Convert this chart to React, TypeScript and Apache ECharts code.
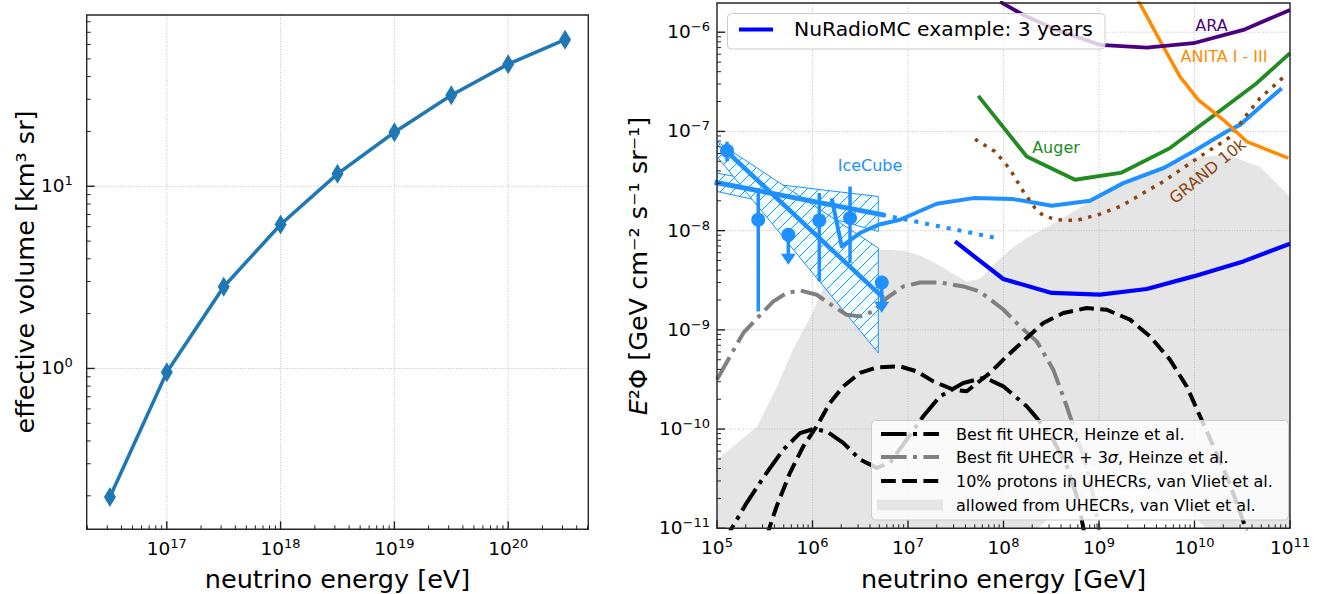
import { useEffect, useRef } from 'react';
import * as echarts from 'echarts';

const FONT = "'DejaVu Sans', sans-serif";

// ---------------- Left panel: effective volume ----------------
const veffEnergyEV = [3.162e16, 1e17, 3.162e17, 1e18, 3.162e18, 1e19, 3.162e19, 1e20, 3.162e20];
const veffKm3Sr = [0.197, 0.953, 2.81, 6.17, 11.7, 19.8, 31.6, 46.8, 63.8];
const leftXTicks = [1e17, 1e18, 1e19, 1e20];
const leftYTicks = [1, 10];

// ---------------- Right panel (values as log10) ----------------
const rightXTicks = [1e5, 1e6, 1e7, 1e8, 1e9, 1e10, 1e11];
const rightYTicks = [1e-11, 1e-10, 1e-9, 1e-8, 1e-7, 1e-6];

// allowed region from UHECRs (van Vliet et al.)
const allowedUpLogE = [5.0, 5.168, 5.419, 5.628, 5.796, 5.974, 6.152, 6.288, 6.497, 6.759, 6.969, 7.126, 7.283, 7.471, 7.618, 7.754, 7.89, 8.068, 8.246, 8.592, 8.937, 9.293, 9.639, 9.984, 10.34, 10.686, 11.0];
const allowedUpLogF = [-10.307, -10.176, -9.975, -9.572, -9.199, -8.877, -8.494, -8.292, -8.212, -8.192, -8.202, -8.253, -8.323, -8.434, -8.515, -8.485, -8.354, -8.193, -8.072, -7.89, -7.689, -7.487, -7.357, -7.266, -7.236, -7.357, -7.659];
const allowedLowLogE = [11.0, 10.215, 10.11, 9.848, 9.534, 9.22, 8.906, 8.592, 8.382, 8.277, 5.0];
const allowedLowLogF = [-11.16, -11.16, -10.988, -10.756, -10.635, -10.605, -10.645, -10.786, -10.988, -11.16, -11.16];

// Heinze best fit
const heinzeLogE = [5.06, 5.118, 5.311, 5.52, 5.694, 5.869, 6.008, 6.149, 6.322, 6.497, 6.672, 6.812, 6.986, 7.16, 7.335, 7.579, 7.806, 7.998, 8.243, 8.348, 8.518, 8.665, 8.77, 8.833, 8.87];
const heinzeLogF = [-11.2, -11.06, -10.743, -10.44, -10.207, -10.04, -10.0, -10.022, -10.139, -10.306, -10.391, -10.34, -10.106, -9.871, -9.67, -9.535, -9.481, -9.569, -9.77, -9.887, -10.105, -10.377, -10.68, -10.98, -11.2];
// Heinze + 3 sigma
const heinze3sLogE = [5.0, 5.136, 5.276, 5.433, 5.59, 5.73, 5.869, 6.044, 6.218, 6.358, 6.497, 6.637, 6.777, 6.951, 7.126, 7.335, 7.579, 7.754, 7.998, 8.173, 8.348, 8.521, 8.662, 8.767, 8.871, 8.94, 8.993, 9.02];
const heinze3sLogF = [-9.5, -9.267, -9.031, -8.87, -8.713, -8.628, -8.602, -8.646, -8.763, -8.847, -8.864, -8.814, -8.679, -8.562, -8.522, -8.522, -8.562, -8.615, -8.795, -8.965, -9.116, -9.401, -9.77, -10.073, -10.375, -10.677, -10.98, -11.16];
// van Vliet 10% protons
const vliet10LogE = [5.52, 5.625, 5.764, 5.904, 6.044, 6.183, 6.323, 6.497, 6.672, 6.916, 7.091, 7.265, 7.474, 7.615, 7.859, 8.033, 8.243, 8.417, 8.626, 8.871, 9.081, 9.325, 9.534, 9.743, 9.918, 10.058, 10.197, 10.337, 10.442, 10.529, 10.58];
const vliet10LogF = [-11.08, -10.777, -10.441, -10.173, -9.972, -9.736, -9.569, -9.434, -9.378, -9.368, -9.418, -9.519, -9.602, -9.619, -9.434, -9.267, -9.082, -8.931, -8.83, -8.78, -8.797, -8.897, -9.065, -9.3, -9.569, -9.871, -10.173, -10.475, -10.743, -10.979, -11.16];

// IceCube EHE limit
const icLimitLogE = [6.201, 6.306, 6.497, 6.689, 6.916, 7.301, 7.684, 8.103, 8.505, 8.906, 9.254, 9.673, 9.988, 10.337, 10.476, 10.913];
const icLimitLogF = [-7.675, -8.159, -8.024, -7.941, -7.89, -7.729, -7.672, -7.682, -7.749, -7.699, -7.521, -7.37, -7.202, -7.001, -6.934, -6.564];
// IceCube power-law fits
const icShallowFitLogE = [5.0, 6.728];
const icShallowFitLogF = [-7.517, -7.839];
const icShallowExtrapLogE = [6.728, 7.929];
const icShallowExtrapLogF = [-7.839, -8.075];
const icSteepFitLogE = [5.102, 6.725];
const icSteepFitLogF = [-7.202, -8.663];
// IceCube bands
const icShallowBandUpLogE = [5.0, 5.66, 6.689];
const icShallowBandUpLogF = [-7.42, -7.538, -7.656];
const icShallowBandLowLogE = [5.0, 5.869, 6.689];
const icShallowBandLowLogF = [-7.605, -7.788, -8.008];
const icSteepBandUpLogE = [5.0, 6.689];
const icSteepBandUpLogF = [-7.102, -8.175];
const icSteepBandLowLogE = [5.0, 6.689];
const icSteepBandLowLogF = [-7.253, -9.233];
// IceCube differential points
const icPtLogE = [5.105, 5.432, 5.747, 6.071, 6.393, 6.725];
const icPtLogF = [-7.195, -7.89, -8.041, -7.897, -7.873, -8.522];
const icPtHiLogF = [-7.104, -7.59, -8.041, -7.621, -7.555, -8.522];
const icPtLoLogF = [-7.303, -8.814, -8.343, -8.512, -8.326, -8.827];
const icPtUpperLimit = [false, false, true, false, false, true];

// NuRadioMC example
const nuradioLogE = [7.492, 7.998, 8.505, 9.01, 9.5, 9.988, 10.511, 11.0];
const nuradioLogF = [-8.109, -8.487, -8.628, -8.645, -8.588, -8.461, -8.31, -8.132];
// Auger
const augerLogE = [7.736, 8.243, 8.749, 9.238, 9.743, 10.233, 10.651, 11.0];
const augerLogF = [-6.641, -7.253, -7.487, -7.414, -7.168, -6.816, -6.514, -6.211];
// ANITA I-III
const anitaLogE = [9.408, 9.673, 9.848, 10.04, 10.302, 10.547, 10.982];
const anitaLogF = [-5.675, -6.145, -6.447, -6.682, -6.883, -7.102, -7.269];
// ARA
const araLogE = [7.963, 8.207, 8.557, 9.01, 9.5, 9.988, 10.511, 11.0];
const araLogF = [-5.692, -5.826, -5.977, -6.128, -6.155, -6.111, -5.977, -5.775];
// GRAND 10k
const grandLogE = [7.702, 7.911, 8.068, 8.191, 8.33, 8.417, 8.557, 8.766, 9.01, 9.238, 9.464, 9.673, 10.058, 10.372, 10.545, 10.686, 10.958];
const grandLogF = [-7.078, -7.202, -7.38, -7.581, -7.772, -7.85, -7.89, -7.897, -7.833, -7.749, -7.621, -7.505, -7.253, -7.057, -6.833, -6.665, -6.43];

const IC = '#1e90ff';

const L = (e: number[], f: number[]) => e.map((x, i) => [Math.pow(10, x), Math.pow(10, f[i])]);

function minorTicks(min: number, max: number) {
  const out: number[] = [];
  for (let d = Math.floor(Math.log10(min)); d <= Math.ceil(Math.log10(max)); d++) {
    for (let k = 2; k <= 9; k++) {
      const v = k * Math.pow(10, d);
      if (v > min && v < max) out.push(v);
    }
  }
  return out;
}

const supLabel = (v: number) => {
  const e = Math.round(Math.log10(v));
  return `{b|10}{s|${e < 0 ? '\u2212' + -e : e}}`;
};

const RICH = {
  b: { fontSize: 18.5, fontFamily: FONT, fill: '#000', lineHeight: 21, verticalAlign: 'bottom' },
  s: { fontSize: 13, fontFamily: FONT, fill: '#000', lineHeight: 13, verticalAlign: 'top' },
};

const LEFT = { xMin: 1.977e16, xMax: 5.06e20, yMin: 0.131, yMax: 87.1 };
const RIGHT = { xMin: 1e5, xMax: 1e11, yMin: 1e-11, yMax: 1.97e-6 };

function tickSeries(gi: number, dim: 'x' | 'y', vals: number[], major: boolean, other: number, label: boolean, gap: number) {
  return {
    type: 'custom',
    xAxisIndex: gi,
    yAxisIndex: gi,
    z: 6,
    silent: true,
    clip: false,
    data: vals.map((v) => (dim === 'x' ? [v, other] : [other, v])),
    renderItem: (params: any, api: any) => {
      const cs = params.coordSys;
      const v = api.value(dim === 'x' ? 0 : 1);
      const pt = api.coord(dim === 'x' ? [v, other] : [other, v]);
      const len = major ? 8 : 4;
      const lw = major ? 1.4 : 1;
      const children: any[] = [];
      if (dim === 'x') {
        const x = pt[0];
        const yb = cs.y + cs.height;
        children.push({ type: 'line', shape: { x1: x, y1: yb, x2: x, y2: yb - len }, style: { stroke: '#222', lineWidth: lw } });
        if (label)
          children.push({
            type: 'text',
            style: { text: supLabel(v), x, y: yb + gap, align: 'center', verticalAlign: 'top', rich: RICH, fontFamily: FONT, fontSize: 18.5, fill: '#000' },
          });
      } else {
        const y = pt[1];
        const xl = cs.x;
        children.push({ type: 'line', shape: { x1: xl, y1: y, x2: xl + len, y2: y }, style: { stroke: '#222', lineWidth: lw } });
        if (label)
          children.push({
            type: 'text',
            style: { text: supLabel(v), x: xl - gap, y: y - 1.5, align: 'right', verticalAlign: 'middle', rich: RICH, fontFamily: FONT, fontSize: 18.5, fill: '#000' },
          });
      }
      return { type: 'group', children };
    },
  };
}

function gridSeries(gi: number, dim: 'x' | 'y', vals: number[], other: number) {
  return {
    type: 'custom',
    xAxisIndex: gi,
    yAxisIndex: gi,
    z: 2,
    silent: true,
    clip: false,
    data: vals.map((v) => (dim === 'x' ? [v, other] : [other, v])),
    renderItem: (params: any, api: any) => {
      const cs = params.coordSys;
      const v = api.value(dim === 'x' ? 0 : 1);
      const pt = api.coord(dim === 'x' ? [v, other] : [other, v]);
      const shape =
        dim === 'x'
          ? { x1: pt[0], y1: cs.y, x2: pt[0], y2: cs.y + cs.height }
          : { x1: cs.x, y1: pt[1], x2: cs.x + cs.width, y2: pt[1] };
      return { type: 'line', shape, style: { stroke: '#b8b8b8', lineWidth: 0.9, lineDash: [1, 1.6] } };
    },
  };
}

function polySeries(pts: number[][], style: any, z: number) {
  return {
    type: 'custom',
    xAxisIndex: 1,
    yAxisIndex: 1,
    z,
    silent: true,
    clip: true,
    data: [pts[0]],
    renderItem: (_p: any, api: any) => ({
      type: 'polygon',
      shape: { points: pts.map((p) => api.coord(p)) },
      style,
    }),
  };
}

function lineSeries(pts: number[][], color: string, width: number, type: any, z = 4, cap = 'butt') {
  return {
    type: 'line',
    xAxisIndex: 1,
    yAxisIndex: 1,
    data: pts,
    symbol: 'none',
    showSymbol: false,
    silent: true,
    z,
    lineStyle: { color, width, type, cap, join: 'round' },
  };
}

const hatchSvg =
  "<svg xmlns='http://www.w3.org/2000/svg' width='12' height='12'><rect width='12' height='12' fill='#f0ffff'/><path d='M-3,3 L3,-3 M0,12 L12,0 M9,15 L15,9' stroke='#1e90ff' stroke-width='1'/></svg>";
const hatchUrl = 'data:image/svg+xml;charset=utf-8,' + encodeURIComponent(hatchSvg);
const hatchFill = { image: hatchUrl, repeat: 'repeat', imageWidth: 12, imageHeight: 12 };

const DASHDOT = [25.6, 6.4, 4, 6.4];
const DASHED = [14.8, 6.4];

function buildOption() {
  const allowedPoly = [...L(allowedUpLogE, allowedUpLogF), ...L(allowedLowLogE, allowedLowLogF)];
  const shallowBand = [...L(icShallowBandUpLogE, icShallowBandUpLogF), ...L(icShallowBandLowLogE, icShallowBandLowLogF).reverse()];
  const steepBand = [...L(icSteepBandUpLogE, icSteepBandUpLogF), ...L(icSteepBandLowLogE, icSteepBandLowLogF).reverse()];

  const series: any[] = [
    // ---- left panel ----
    gridSeries(0, 'x', leftXTicks, LEFT.yMin),
    gridSeries(0, 'y', leftYTicks, LEFT.xMin),
    {
      type: 'line',
      xAxisIndex: 0,
      yAxisIndex: 0,
      data: veffEnergyEV.map((e, i) => [e, veffKm3Sr[i]]),
      symbol: 'diamond',
      symbolSize: [12, 20],
      showSymbol: true,
      silent: true,
      z: 4,
      lineStyle: { color: '#1f77b4', width: 3.5 },
      itemStyle: { color: '#1f77b4' },
    },
    tickSeries(0, 'x', leftXTicks, true, LEFT.yMin, true, 8),
    tickSeries(0, 'x', minorTicks(LEFT.xMin, LEFT.xMax), false, LEFT.yMin, false, 0),
    tickSeries(0, 'y', leftYTicks, true, LEFT.xMin, true, 14),
    tickSeries(0, 'y', minorTicks(LEFT.yMin, LEFT.yMax), false, LEFT.xMin, false, 0),

    // ---- right panel ----
    polySeries(allowedPoly, { fill: '#e5e5e5' }, 1),
    gridSeries(1, 'x', rightXTicks, RIGHT.yMin),
    gridSeries(1, 'y', rightYTicks, RIGHT.xMin),
    polySeries(shallowBand, { fill: hatchFill, stroke: IC, lineWidth: 1 }, 3),
    polySeries(steepBand, { fill: hatchFill, stroke: IC, lineWidth: 1 }, 3),
    lineSeries(L(heinzeLogE, heinzeLogF), '#000000', 4, DASHDOT),
    lineSeries(L(heinze3sLogE, heinze3sLogF), '#808080', 4, DASHDOT),
    lineSeries(L(vliet10LogE, vliet10LogF), '#000000', 4, DASHED),
    lineSeries(L(icShallowFitLogE, icShallowFitLogF), IC, 5, 'solid', 4, 'square'),
    lineSeries(L(icSteepFitLogE, icSteepFitLogF), IC, 4.5, 'solid', 4, 'square'),
    lineSeries(L(icShallowExtrapLogE, icShallowExtrapLogF), IC, 4, [4, 7]),
    lineSeries(L(icLimitLogE, icLimitLogF), IC, 4, 'solid'),
    lineSeries(L(grandLogE, grandLogF), '#8b4513', 3.5, [3.5, 6.5]),
    lineSeries(L(augerLogE, augerLogF), '#228b22', 3.8, 'solid'),
    lineSeries(L(anitaLogE, anitaLogF), '#ff8c00', 3.5, 'solid'),
    lineSeries(L(araLogE, araLogF), '#4b0082', 3.8, 'solid'),
    lineSeries(L(nuradioLogE, nuradioLogF), '#0000ff', 4.2, 'solid'),
    {
      type: 'custom',
      xAxisIndex: 1,
      yAxisIndex: 1,
      z: 5,
      silent: true,
      data: icPtLogE.map((e, i) => [Math.pow(10, e), Math.pow(10, icPtLogF[i]), i]),
      renderItem: (params: any, api: any) => {
        const i = params.dataIndex;
        const E = Math.pow(10, icPtLogE[i]);
        const top = api.coord([E, Math.pow(10, icPtHiLogF[i])]);
        const bot = api.coord([E, Math.pow(10, icPtLoLogF[i])]);
        const children: any[] = [
          { type: 'line', shape: { x1: top[0], y1: top[1], x2: bot[0], y2: icPtUpperLimit[i] ? bot[1] - 8 : bot[1] }, style: { stroke: IC, lineWidth: 3.5 } },
        ];
        if (icPtUpperLimit[i]) {
          children.push({
            type: 'polygon',
            shape: { points: [[bot[0] - 7.5, bot[1] - 11], [bot[0] + 7.5, bot[1] - 11], [bot[0], bot[1]]] },
            style: { fill: IC },
          });
        }
        return { type: 'group', children };
      },
    },
    {
      type: 'scatter',
      xAxisIndex: 1,
      yAxisIndex: 1,
      z: 5,
      silent: true,
      symbol: 'circle',
      symbolSize: 14,
      data: L(icPtLogE, icPtLogF),
      itemStyle: { color: IC, opacity: 1 },
    },
    tickSeries(1, 'x', rightXTicks, true, RIGHT.yMin, true, 8),
    tickSeries(1, 'x', minorTicks(RIGHT.xMin, RIGHT.xMax), false, RIGHT.yMin, false, 0),
    tickSeries(1, 'y', rightYTicks, true, RIGHT.xMin, true, 7),
    tickSeries(1, 'y', minorTicks(RIGHT.yMin, RIGHT.yMax), false, RIGHT.xMin, false, 0),
  ];

  const txt = (x: number, y: number, text: string, size: number, color: string, extra: any = {}, styleExtra: any = {}) => ({
    type: 'text',
    x,
    y,
    z: 12,
    silent: true,
    ...extra,
    style: { text, font: `${size}px ${FONT}`, fill: color, align: 'center', verticalAlign: 'middle', ...styleExtra },
  });

  const legendRowX1 = 881;
  const legendRowX2 = 939;
  const graphic: any[] = [
    // axis titles
    txt(337.5, 579, 'neutrino energy [eV]', 25.5, '#000'),
    txt(24.5, 272, 'effective volume [km³ sr]', 25.5, '#000', { rotation: Math.PI / 2 }),
    txt(1003.5, 579, 'neutrino energy [GeV]', 25.5, '#000'),
    txt(638, 266, '{i|E}²Φ [GeV cm⁻² s⁻¹ sr⁻¹]', 25.5, '#000', { rotation: Math.PI / 2 }, {
      rich: { i: { fontStyle: 'italic', fontSize: 25.5, fontFamily: FONT, fill: '#000' } },
    }),
    // curve annotations
    txt(1211.5, 25, 'ARA', 16, '#4b0082'),
    txt(1224, 56.5, 'ANITA I - III', 16, '#ff8c00'),
    txt(1056, 147.5, 'Auger', 16, '#228b22'),
    txt(870, 165, 'IceCube', 16, IC),
    txt(1207.5, 171, 'GRAND 10k', 16, '#8b4513', { rotation: (39 * Math.PI) / 180 }),
    // top legend
    {
      type: 'rect',
      z: 11,
      silent: true,
      shape: { x: 727.5, y: 13.5, width: 377.5, height: 35.5, r: 4 },
      style: { fill: 'rgba(255,255,255,0.8)', stroke: '#cccccc', lineWidth: 1 },
    },
    { type: 'line', z: 12, silent: true, shape: { x1: 739, y1: 29.5, x2: 773, y2: 29.5 }, style: { stroke: '#0000ff', lineWidth: 4.2 } },
    txt(794, 29, 'NuRadioMC example: 3 years', 20.3, '#000', {}, { align: 'left' }),
    // bottom legend
    {
      type: 'rect',
      z: 11,
      silent: true,
      shape: { x: 871.5, y: 420.5, width: 417, height: 99.5, r: 4 },
      style: { fill: 'rgba(255,255,255,0.8)', stroke: '#cccccc', lineWidth: 1 },
    },
    { type: 'line', z: 12, silent: true, shape: { x1: legendRowX1, y1: 434, x2: legendRowX2, y2: 434 }, style: { stroke: '#000', lineWidth: 4, lineDash: DASHDOT } },
    { type: 'line', z: 12, silent: true, shape: { x1: legendRowX1, y1: 457, x2: legendRowX2, y2: 457 }, style: { stroke: '#808080', lineWidth: 4, lineDash: DASHDOT } },
    { type: 'line', z: 12, silent: true, shape: { x1: legendRowX1, y1: 481, x2: legendRowX2, y2: 481 }, style: { stroke: '#000', lineWidth: 4, lineDash: DASHED } },
    { type: 'rect', z: 12, silent: true, shape: { x: 877, y: 499.5, width: 66, height: 11 }, style: { fill: '#e5e5e5' } },
    txt(956, 434, 'Best fit UHECR, Heinze et al.', 16, '#000', {}, { align: 'left' }),
    txt(956, 457, 'Best fit UHECR + 3{i|σ}, Heinze et al.', 16, '#000', {}, {
      align: 'left',
      rich: { i: { fontStyle: 'italic', fontSize: 16, fontFamily: FONT, fill: '#000' } },
    }),
    txt(956, 481, '10% protons in UHECRs, van Vliet et al.', 16, '#000', {}, { align: 'left' }),
    txt(956, 505, 'allowed from UHECRs, van Vliet et al.', 16, '#000', {}, { align: 'left' }),
  ];

  const hiddenAxis = { show: false, axisLine: { show: false }, axisTick: { show: false }, axisLabel: { show: false }, splitLine: { show: false } };

  return {
    animation: false,
    backgroundColor: '#ffffff',
    textStyle: { fontFamily: FONT },
    grid: [
      { left: 86.7, top: 15, width: 501.6, height: 514.3, show: true, z: 10, borderColor: '#262626', borderWidth: 1.4, backgroundColor: 'transparent' },
      { left: 717, top: 3, width: 573, height: 525.3, show: true, z: 10, borderColor: '#262626', borderWidth: 1.4, backgroundColor: 'transparent' },
    ],
    xAxis: [
      { type: 'log', logBase: 10, gridIndex: 0, min: LEFT.xMin, max: LEFT.xMax, ...hiddenAxis },
      { type: 'log', logBase: 10, gridIndex: 1, min: RIGHT.xMin, max: RIGHT.xMax, ...hiddenAxis },
    ],
    yAxis: [
      { type: 'log', logBase: 10, gridIndex: 0, min: LEFT.yMin, max: LEFT.yMax, ...hiddenAxis },
      { type: 'log', logBase: 10, gridIndex: 1, min: RIGHT.yMin, max: RIGHT.yMax, ...hiddenAxis },
    ],
    series,
    graphic,
  };
}

export default function App() {
  const ref = useRef<HTMLDivElement>(null);
  useEffect(() => {
    if (!ref.current) return;
    const chart = echarts.init(ref.current, undefined, { renderer: 'svg' });
    chart.setOption(buildOption() as any);
    return () => chart.dispose();
  }, []);
  return <div ref={ref} style={{ position: 'fixed', left: 0, top: 0, width: 1321, height: 594, background: '#fff' }} />;
}
